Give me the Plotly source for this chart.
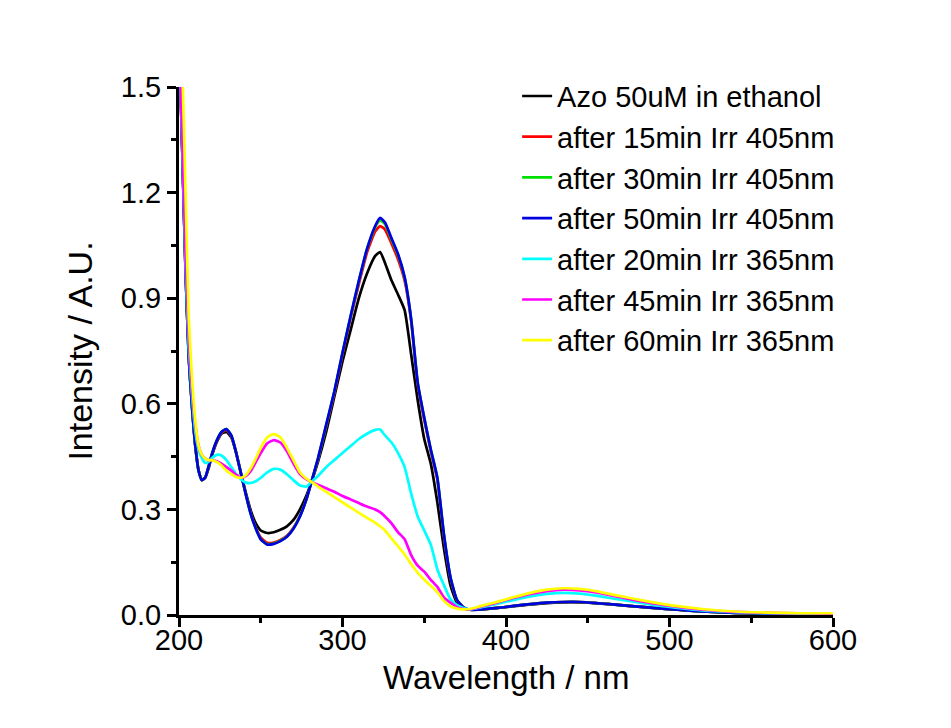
import plotly.graph_objects as go

wavelength = [200, 202, 204, 206, 208, 210, 212, 214, 216, 218, 220, 223, 226, 229, 232, 235, 238, 241, 244, 247,
              250, 254, 258, 262, 266, 270, 274, 278, 281, 285, 290, 295, 300, 305, 310, 315, 320, 323, 326, 330,
              334, 338, 342, 346, 350, 354, 358, 362, 366, 370, 374, 378, 385, 395, 405, 415, 425, 435, 445, 455,
              465, 475, 490, 505, 520, 540, 560, 580, 600]

azo_initial = [1.65, 1.32, 0.98, 0.73, 0.59, 0.48, 0.41, 0.385, 0.39, 0.415, 0.45, 0.49, 0.515, 0.52, 0.505, 0.46, 0.40, 0.345, 0.295, 0.26,
               0.24, 0.233, 0.235, 0.242, 0.252, 0.27, 0.30, 0.34, 0.378, 0.435, 0.52, 0.62, 0.72, 0.81, 0.90, 0.97, 1.02, 1.031, 1.0, 0.95,
               0.91, 0.866, 0.74, 0.61, 0.50, 0.43, 0.32, 0.19, 0.085, 0.035, 0.02, 0.015, 0.016, 0.02, 0.025, 0.03, 0.034, 0.036, 0.036, 0.034,
               0.03, 0.026, 0.02, 0.015, 0.01, 0.006, 0.004, 0.003, 0.003]

irr405_15 = [1.65, 1.32, 0.98, 0.73, 0.59, 0.48, 0.41, 0.383, 0.39, 0.42, 0.455, 0.493, 0.518, 0.525, 0.508, 0.46, 0.40, 0.34, 0.287, 0.248,
             0.22, 0.205, 0.206, 0.213, 0.225, 0.248, 0.282, 0.33, 0.378, 0.443, 0.535, 0.63, 0.74, 0.845, 0.94, 1.03, 1.09, 1.105, 1.095, 1.055,
             1.01, 0.95, 0.835, 0.655, 0.555, 0.465, 0.385, 0.225, 0.105, 0.042, 0.022, 0.015, 0.016, 0.02, 0.026, 0.031, 0.035, 0.037, 0.037, 0.034,
             0.03, 0.026, 0.02, 0.015, 0.01, 0.006, 0.004, 0.003, 0.003]

irr405_30 = [1.65, 1.32, 0.98, 0.73, 0.59, 0.48, 0.41, 0.383, 0.39, 0.42, 0.455, 0.495, 0.52, 0.528, 0.51, 0.46, 0.40, 0.34, 0.285, 0.245,
             0.215, 0.201, 0.203, 0.211, 0.223, 0.246, 0.281, 0.33, 0.378, 0.444, 0.538, 0.635, 0.745, 0.85, 0.948, 1.04, 1.103, 1.122, 1.11, 1.066,
             1.022, 0.958, 0.84, 0.66, 0.56, 0.47, 0.39, 0.23, 0.108, 0.043, 0.022, 0.015, 0.016, 0.02, 0.026, 0.031, 0.035, 0.037, 0.037, 0.034,
             0.03, 0.026, 0.02, 0.015, 0.01, 0.006, 0.004, 0.003, 0.003]

irr405_50 = [1.65, 1.32, 0.98, 0.73, 0.59, 0.48, 0.41, 0.383, 0.39, 0.42, 0.455, 0.495, 0.52, 0.528, 0.51, 0.46, 0.40, 0.34, 0.285, 0.245,
             0.215, 0.200, 0.202, 0.21, 0.222, 0.245, 0.28, 0.33, 0.378, 0.445, 0.54, 0.635, 0.745, 0.85, 0.95, 1.04, 1.105, 1.128, 1.115, 1.07,
             1.025, 0.96, 0.84, 0.66, 0.56, 0.47, 0.39, 0.23, 0.108, 0.043, 0.022, 0.015, 0.016, 0.02, 0.026, 0.031, 0.035, 0.037, 0.037, 0.034,
             0.03, 0.026, 0.02, 0.015, 0.01, 0.006, 0.004, 0.003, 0.003]

irr365_20 = [1.65, 1.34, 1.0, 0.76, 0.62, 0.52, 0.47, 0.445, 0.432, 0.435, 0.445, 0.455, 0.453, 0.44, 0.42, 0.40, 0.385, 0.376, 0.375, 0.38,
             0.39, 0.405, 0.415, 0.413, 0.40, 0.383, 0.368, 0.365, 0.378, 0.395, 0.42, 0.44, 0.46, 0.48, 0.50, 0.515, 0.526, 0.527, 0.51, 0.49,
             0.46, 0.42, 0.345, 0.28, 0.24, 0.20, 0.13, 0.085, 0.045, 0.028, 0.02, 0.016, 0.022, 0.032, 0.043, 0.053, 0.06, 0.063, 0.061, 0.055,
             0.047, 0.04, 0.029, 0.02, 0.013, 0.008, 0.005, 0.004, 0.004]

irr365_45 = [1.65, 1.36, 1.03, 0.79, 0.64, 0.54, 0.48, 0.455, 0.445, 0.44, 0.44, 0.437, 0.43, 0.42, 0.41, 0.398, 0.39, 0.395, 0.41, 0.435,
             0.46, 0.488, 0.497, 0.49, 0.465, 0.43, 0.40, 0.385, 0.378, 0.37, 0.36, 0.35, 0.338, 0.328, 0.318, 0.308, 0.30, 0.292, 0.28, 0.26,
             0.235, 0.215, 0.17, 0.14, 0.123, 0.10, 0.08, 0.05, 0.035, 0.022, 0.017, 0.016, 0.024, 0.036, 0.049, 0.06, 0.068, 0.072, 0.07, 0.064,
             0.055, 0.046, 0.033, 0.023, 0.015, 0.009, 0.006, 0.005, 0.004]

irr365_60 = [1.75, 1.56, 1.20, 0.84, 0.67, 0.55, 0.48, 0.455, 0.445, 0.44, 0.44, 0.435, 0.425, 0.41, 0.40, 0.392, 0.39, 0.398, 0.418, 0.445,
             0.475, 0.505, 0.514, 0.505, 0.475, 0.44, 0.405, 0.387, 0.378, 0.365, 0.35, 0.335, 0.32, 0.305, 0.29, 0.276, 0.262, 0.252, 0.24, 0.217,
             0.195, 0.172, 0.145, 0.12, 0.10, 0.083, 0.065, 0.04, 0.025, 0.018, 0.016, 0.017, 0.026, 0.038, 0.051, 0.063, 0.072, 0.076, 0.074, 0.068,
             0.058, 0.049, 0.036, 0.025, 0.017, 0.01, 0.007, 0.005, 0.005]

series_names = ["Azo 50uM in ethanol", "after 15min Irr 405nm", "after 30min Irr 405nm", "after 50min Irr 405nm",
                "after 20min Irr 365nm", "after 45min Irr 365nm", "after 60min Irr 365nm"]
series_values = [azo_initial, irr405_15, irr405_30, irr405_50, irr365_20, irr365_45, irr365_60]
series_colors = ["#000000", "#FF0000", "#00E000", "#0000E0", "#00FFFF", "#FF00FF", "#FFFF00"]

x_ticks = [200, 300, 400, 500, 600]
y_ticks = [0.0, 0.3, 0.6, 0.9, 1.2, 1.5]
x_title = "Wavelength / nm"
y_title = "Intensity / A.U."

FONT = "Liberation Sans, Arial, sans-serif"

fig = go.Figure()
for name, vals, col in zip(series_names, series_values, series_colors):
    fig.add_trace(go.Scatter(x=wavelength, y=vals, mode="lines", name=name,
                             line=dict(color=col, width=2.7, shape="spline", smoothing=0.5)))

fig.update_layout(
    width=951, height=728,
    margin=dict(l=171, r=126, t=79, b=121),
    paper_bgcolor="white", plot_bgcolor="white",
    font=dict(family=FONT, color="black"),
    showlegend=True,
    legend=dict(x=0.517, y=1.031, xanchor="left", yanchor="top",
                font=dict(family=FONT, size=29, color="black"),
                bgcolor="rgba(0,0,0,0)", tracegroupgap=0, itemwidth=30),
    annotations=[dict(text=x_title, xref="paper", yref="paper", x=0.5, y=-0.118,
                      xanchor="center", yanchor="middle", showarrow=False,
                      font=dict(family=FONT, size=33, color="black"))],
)
fig.update_xaxes(
    range=[200, 600], tickvals=x_ticks, ticktext=[str(v) for v in x_ticks],
    showgrid=False, zeroline=False, showline=True, linecolor="black", linewidth=3,
    ticks="outside", ticklen=9, tickwidth=2.5, tickcolor="black", ticklabelstandoff=-12,
    tickfont=dict(family=FONT, size=29, color="black"),
    minor=dict(dtick=50, ticks="outside", ticklen=5, tickwidth=2.5, tickcolor="black", showgrid=False),
)
fig.update_yaxes(
    range=[0, 1.5], tickvals=y_ticks, ticktext=[f"{v:.1f}" for v in y_ticks],
    showgrid=False, zeroline=False, showline=True, linecolor="black", linewidth=3,
    ticks="outside", ticklen=9, tickwidth=2.5, tickcolor="black",
    tickfont=dict(family=FONT, size=29, color="black"),
    minor=dict(dtick=0.15, ticks="outside", ticklen=5, tickwidth=2.5, tickcolor="black", showgrid=False),
    title=dict(text=y_title, font=dict(family=FONT, size=34, color="black"), standoff=18),
)

fig.write_html("out.html")
